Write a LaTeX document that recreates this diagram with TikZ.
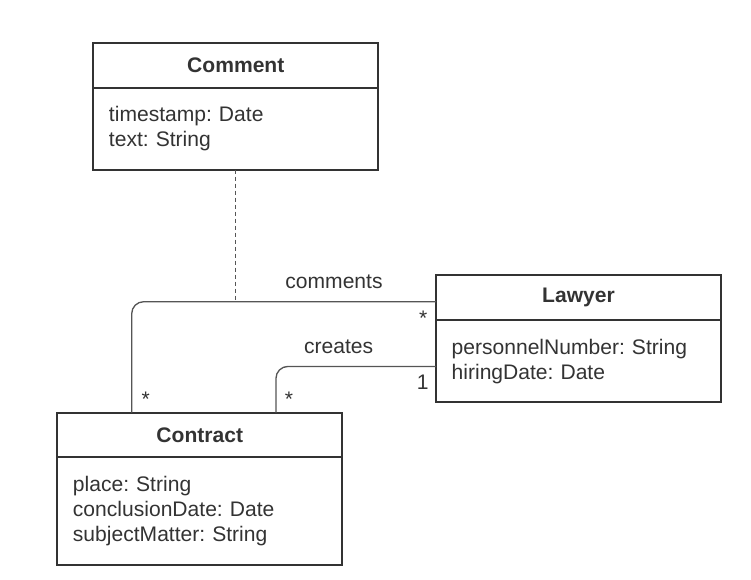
\documentclass[tikz,border=0pt]{standalone}
\usepackage{fontspec}
\setmainfont{Liberation Sans}
\usetikzlibrary{positioning}
\definecolor{ink}{HTML}{333333}
\definecolor{wire}{HTML}{555555}
\frenchspacing
\begin{document}
\begin{tikzpicture}[x=0.75pt,y=-0.75pt,
  every node/.style={font=\fontsize{15.8pt}{18.75pt}\selectfont,text=ink,outer sep=0pt},
  classhead/.style={draw=ink,line width=1.5pt,minimum width=213.75pt,minimum height=33.5pt,inner sep=0pt,font=\fontsize{15.8pt}{18.75pt}\selectfont\bfseries},
  classbody/.style={draw=ink,line width=1.5pt,text width=190.25pt,inner xsep=11.75pt,inner ysep=0pt,align=left},
  assoc/.style={draw=wire,line width=1pt,rounded corners=9pt},
  assocdash/.style={draw=wire,line width=0.75pt,dash pattern=on 3pt off 2.25pt}]
  \useasboundingbox (0,0) rectangle (751,580);
  \node [classhead] (commentHead) at (235.8,65.3) {Comment};
  \node [classbody,minimum height=61.5pt,below=0pt of commentHead] (commentBody) {timestamp: Date\\text: String};
  \node [classhead] (lawyerHead) at (578.5,297.7) {Lawyer};
  \node [classbody,minimum height=61.8pt,below=0pt of lawyerHead] (lawyerBody) {personnelNumber: String\\hiringDate: Date};
  \node [classhead] (contractHead) at (199.8,435) {Contract};
  \node [classbody,minimum height=81pt,below=0pt of contractHead] (contractBody) {place: String\\conclusionDate: Date\\subjectMatter: String};
  \coordinate (cmtStart) at ([yshift=-3pt]lawyerHead.west);
  \coordinate (crtStart) at ([yshift=-3.9pt]lawyerBody.west);
  \draw [assoc] (cmtStart) -| ([xshift=55.8pt]contractHead.north west);
  \draw [assoc] (crtStart) -| ([xshift=164pt]contractHead.north west);
  \draw [assocdash] (commentBody.south) -- (commentBody.south |- cmtStart);
  \node (cmtLabel) at (334,282) {comments};
  \node (crtLabel) at (338.7,347) {creates};
  \node (cmtLawyerMult) at (423.3,317.8) {*};
  \node (cmtContractMult) at (145.7,399.5) {*};
  \node (crtLawyerMult) at (422.7,382.7) {1};
  \node (crtContractMult) at (289,399.5) {*};
\end{tikzpicture}
\end{document}
